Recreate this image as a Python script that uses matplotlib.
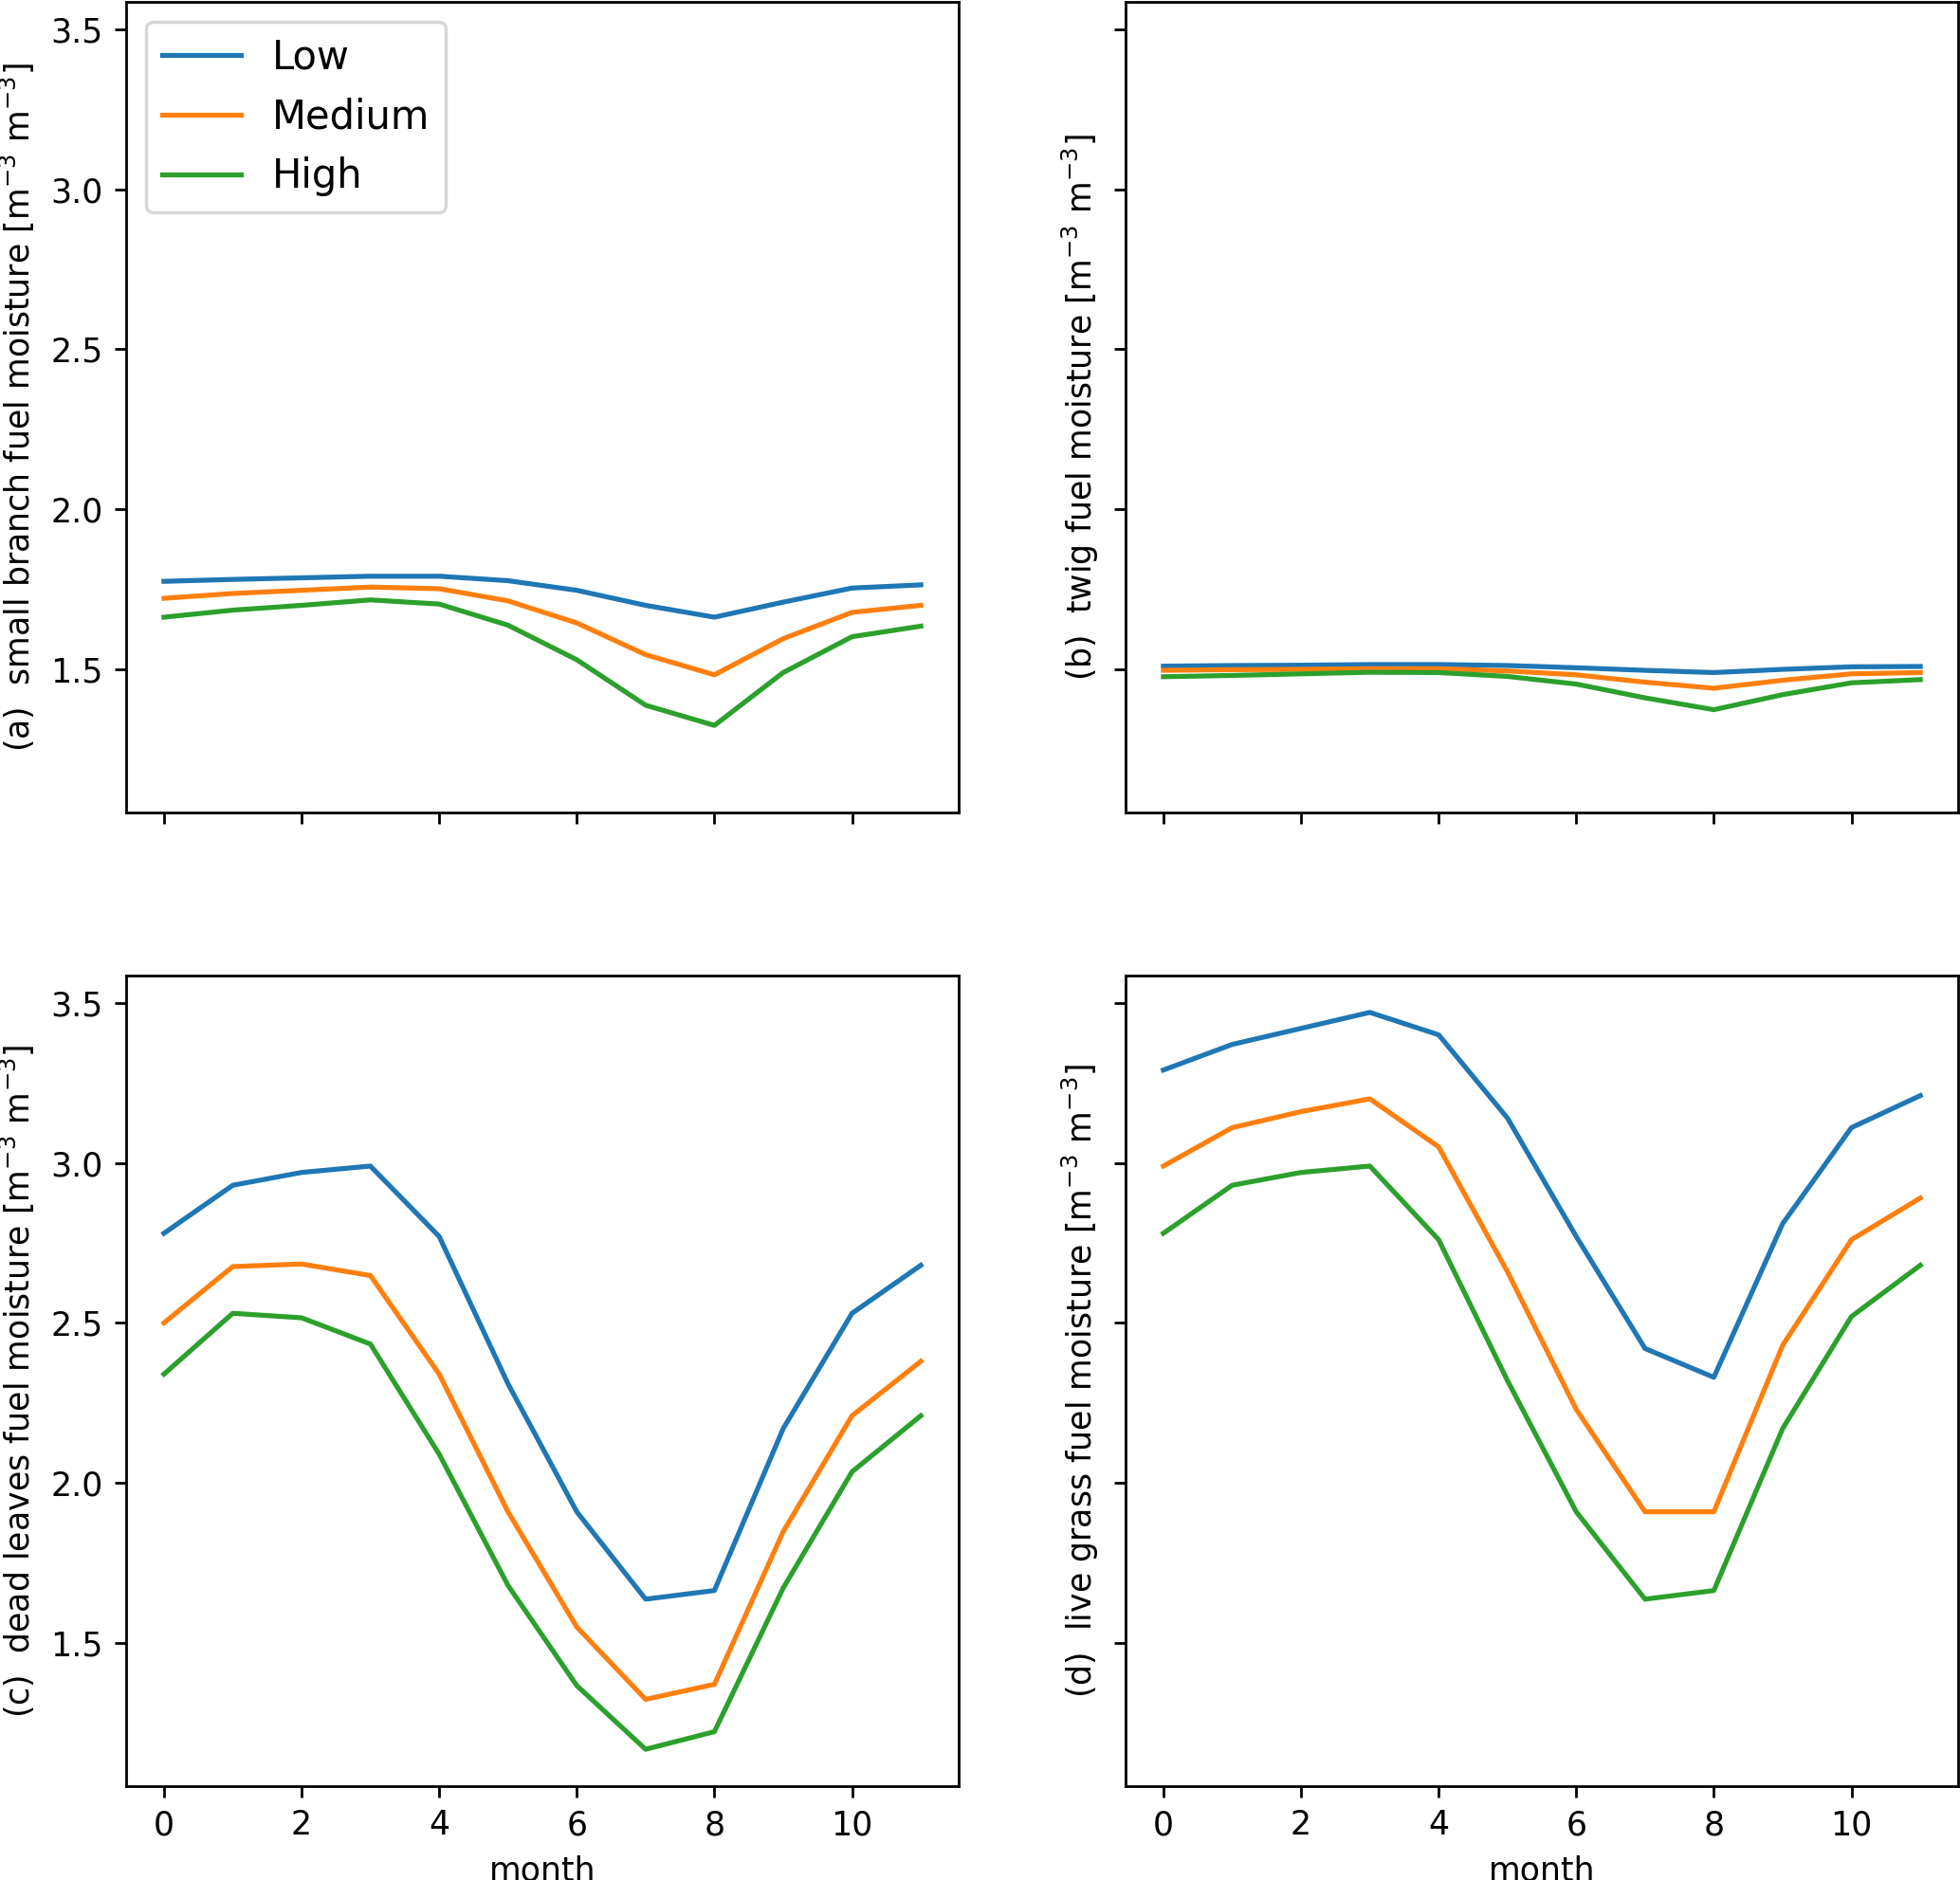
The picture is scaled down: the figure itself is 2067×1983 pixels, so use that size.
import matplotlib
matplotlib.use("Agg")
import matplotlib.pyplot as plt
import numpy as np

months = list(range(12))
levels = ["Low", "Medium", "High"]

# (a) small branch
branch_low = [1.775, 1.781, 1.786, 1.791, 1.791, 1.777, 1.747, 1.700, 1.663, 1.710, 1.754, 1.764]
branch_med = [1.722, 1.737, 1.747, 1.757, 1.752, 1.714, 1.645, 1.546, 1.483, 1.596, 1.678, 1.700]
branch_high = [1.663, 1.685, 1.700, 1.717, 1.704, 1.638, 1.530, 1.388, 1.325, 1.490, 1.602, 1.635]

# (b) twig
twig_low = [1.510, 1.512, 1.513, 1.515, 1.515, 1.512, 1.505, 1.497, 1.490, 1.500, 1.508, 1.509]
twig_med = [1.497, 1.499, 1.500, 1.502, 1.502, 1.495, 1.483, 1.460, 1.441, 1.466, 1.486, 1.490]
twig_high = [1.477, 1.481, 1.486, 1.491, 1.490, 1.478, 1.454, 1.411, 1.374, 1.421, 1.458, 1.468]

# (c) dead leaves
leaves_low = [2.78, 2.93, 2.97, 2.99, 2.77, 2.31, 1.91, 1.637, 1.664, 2.17, 2.53, 2.68]
leaves_med = [2.50, 2.676, 2.684, 2.648, 2.34, 1.91, 1.55, 1.324, 1.371, 1.848, 2.21, 2.38]
leaves_high = [2.34, 2.53, 2.516, 2.434, 2.09, 1.68, 1.367, 1.168, 1.223, 1.672, 2.035, 2.21]

# (d) live grass
grass_low = [3.29, 3.37, 3.42, 3.47, 3.40, 3.14, 2.77, 2.42, 2.33, 2.81, 3.11, 3.21]
grass_med = [2.99, 3.11, 3.16, 3.20, 3.05, 2.66, 2.23, 1.91, 1.91, 2.43, 2.76, 2.89]
grass_high = [2.78, 2.93, 2.97, 2.99, 2.76, 2.32, 1.91, 1.637, 1.664, 2.17, 2.52, 2.68]

unit = r" [m$^{-3}$ m$^{-3}$]"
panels = [
    ("(a)  small branch fuel moisture" + unit, [branch_low, branch_med, branch_high]),
    ("(b)  twig fuel moisture" + unit, [twig_low, twig_med, twig_high]),
    ("(c)  dead leaves fuel moisture" + unit, [leaves_low, leaves_med, leaves_high]),
    ("(d)  live grass fuel moisture" + unit, [grass_low, grass_med, grass_high]),
]

W, H = 2067, 1983
dpi = 250
fig, axes = plt.subplots(2, 2, sharex=True, sharey=True, figsize=(W / dpi, H / dpi), dpi=dpi)
axes = axes.ravel()

aw, ah = 878 / W, 855 / H
lefts = [133 / W, 1187 / W]
bottoms = [1 - 857 / H, 1 - 1884 / H]
positions = [
    [lefts[0], bottoms[0], aw, ah],
    [lefts[1], bottoms[0], aw, ah],
    [lefts[0], bottoms[1], aw, ah],
    [lefts[1], bottoms[1], aw, ah],
]

for ax, pos, (label, series) in zip(axes, positions, panels):
    ax.set_position(pos)
    for lvl, vals in zip(levels, series):
        ax.plot(months, vals, label=lvl, linewidth=1.5)
    ax.set_ylabel(label, fontsize=10)
    ax.tick_params(labelsize=10)

axes[2].set_xlabel("month", fontsize=10)
axes[3].set_xlabel("month", fontsize=10)
axes[0].legend(loc="upper left", fontsize=12)

fig.savefig("out.png", dpi=dpi)
